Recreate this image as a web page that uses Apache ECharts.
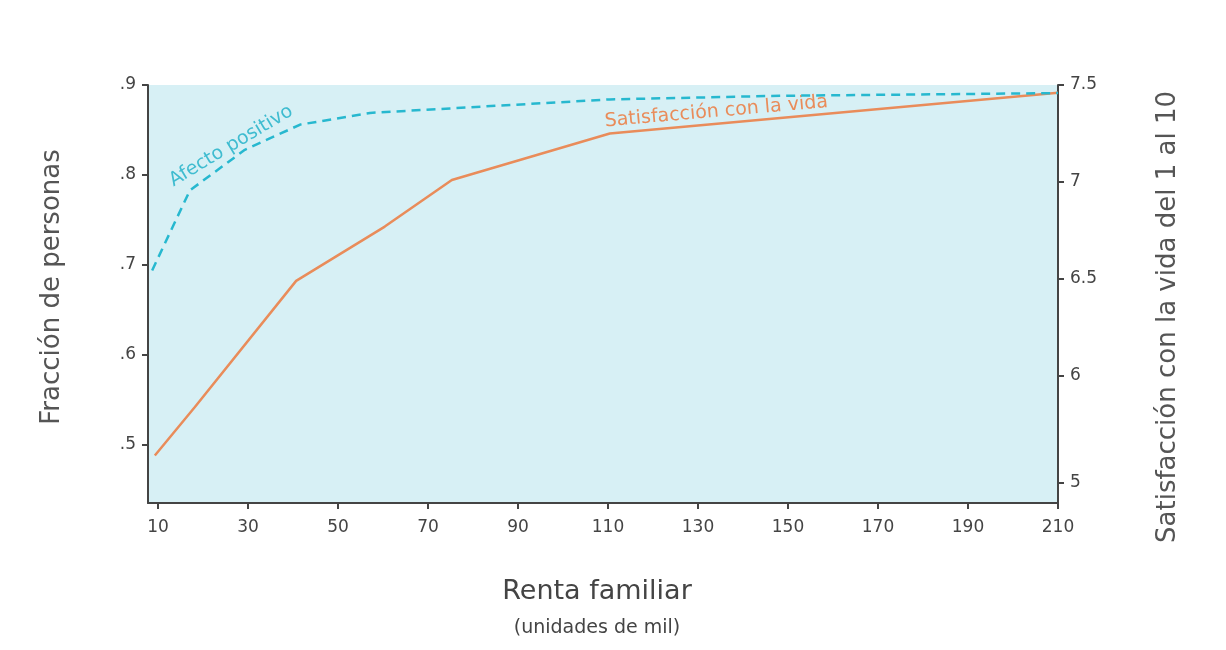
<!DOCTYPE html><html><head><meta charset="utf-8">
<script src="https://cdn.jsdelivr.net/npm/echarts@6/dist/echarts.min.js"></script>
<style>html,body{margin:0;background:#fff}#c{width:1226px;height:650px}</style></head><body><div id="c"></div>
<script>
const xTicks=[10,30,50,70,90,110,130,150,170,190,210];
const leftTicks=[0.5,0.6,0.7,0.8,0.9];
const rightTicks=[7.5,7,6.5,6,5.45];
const rightTickLabels={"7.5":"7.5","7":"7","6.5":"6.5","6":"6","5.45":"5"};
const satisfX=[9.3,18.2,40.7,60.4,75.3,110.4,210];
const satisfY=[5.59,5.84,6.49,6.77,7.01,7.25,7.46];
const afectoX=[8.7,17.1,29.3,41.6,57.1,74.9,110.4,148.2,210];
const afectoY=[0.694,0.783,0.828,0.856,0.869,0.874,0.884,0.888,0.891];
const font='DejaVu Sans';
const ax='#444';
const chart=echarts.init(document.getElementById('c'));
chart.setOption({
 textStyle:{fontFamily:font},
 grid:{left:148,right:168,top:85,bottom:147,show:true,backgroundColor:'#d7f0f5',borderWidth:0},
 xAxis:{type:'value',min:7.78,max:210,
  axisLine:{lineStyle:{color:ax,width:2}},
  axisTick:{customValues:xTicks,length:6,lineStyle:{color:ax,width:2}},
  axisLabel:{customValues:xTicks,color:'#444',fontSize:17,margin:16},
  splitLine:{show:false}},
 yAxis:[{type:'value',min:0.4356,max:0.9,
  axisLine:{show:true,lineStyle:{color:ax,width:2}},
  axisTick:{show:true,customValues:leftTicks,length:6,lineStyle:{color:ax,width:2}},
  axisLabel:{customValues:leftTicks,color:'#444',fontSize:17,margin:12,formatter:v=>'.'+Math.round(v*10)},
  splitLine:{show:false}},
 {type:'value',position:'right',min:5.345,max:7.5,
  axisLine:{show:true,lineStyle:{color:ax,width:2}},
  axisTick:{show:true,customValues:rightTicks,length:6,lineStyle:{color:ax,width:2}},
  axisLabel:{customValues:rightTicks,color:'#444',fontSize:17,margin:12,formatter:v=>rightTickLabels[String(Math.round(v*100)/100)]||''},
  splitLine:{show:false}}],
 series:[
  {type:'line',yAxisIndex:1,data:satisfX.map((x,i)=>[x,satisfY[i]]),showSymbol:false,lineStyle:{color:'#e98c5a',width:2.5}},
  {type:'line',yAxisIndex:0,data:afectoX.map((x,i)=>[x,afectoY[i]]),showSymbol:false,lineStyle:{color:'#27b8cf',width:2.5,type:[9,6]}}
 ],
 graphic:[
  {type:'text',x:166,y:174,rotation:Math.PI*31/180,style:{text:'Afecto positivo',fill:'#3fbcd0',font:'19px '+font}},
  {type:'text',x:604,y:112,rotation:Math.PI*5/180,style:{text:'Satisfacción con la vida',fill:'#e98c5a',font:'19px '+font}},
  {type:'text',x:52,y:287,rotation:Math.PI/2,style:{text:'Fracción de personas',fill:'#555',font:'26px '+font,align:'center',verticalAlign:'middle'}},
  {type:'text',x:1168,y:317,rotation:Math.PI/2,style:{text:'Satisfacción con la vida del 1 al 10',fill:'#555',font:'26px '+font,align:'center',verticalAlign:'middle'}},
  {type:'text',x:597,y:592,style:{text:'Renta familiar',fill:'#444',font:'27px '+font,align:'center',verticalAlign:'middle'}},
  {type:'text',x:597,y:628,style:{text:'(unidades de mil)',fill:'#444',font:'19px '+font,align:'center',verticalAlign:'middle'}}
 ]
});
</script></body></html>
